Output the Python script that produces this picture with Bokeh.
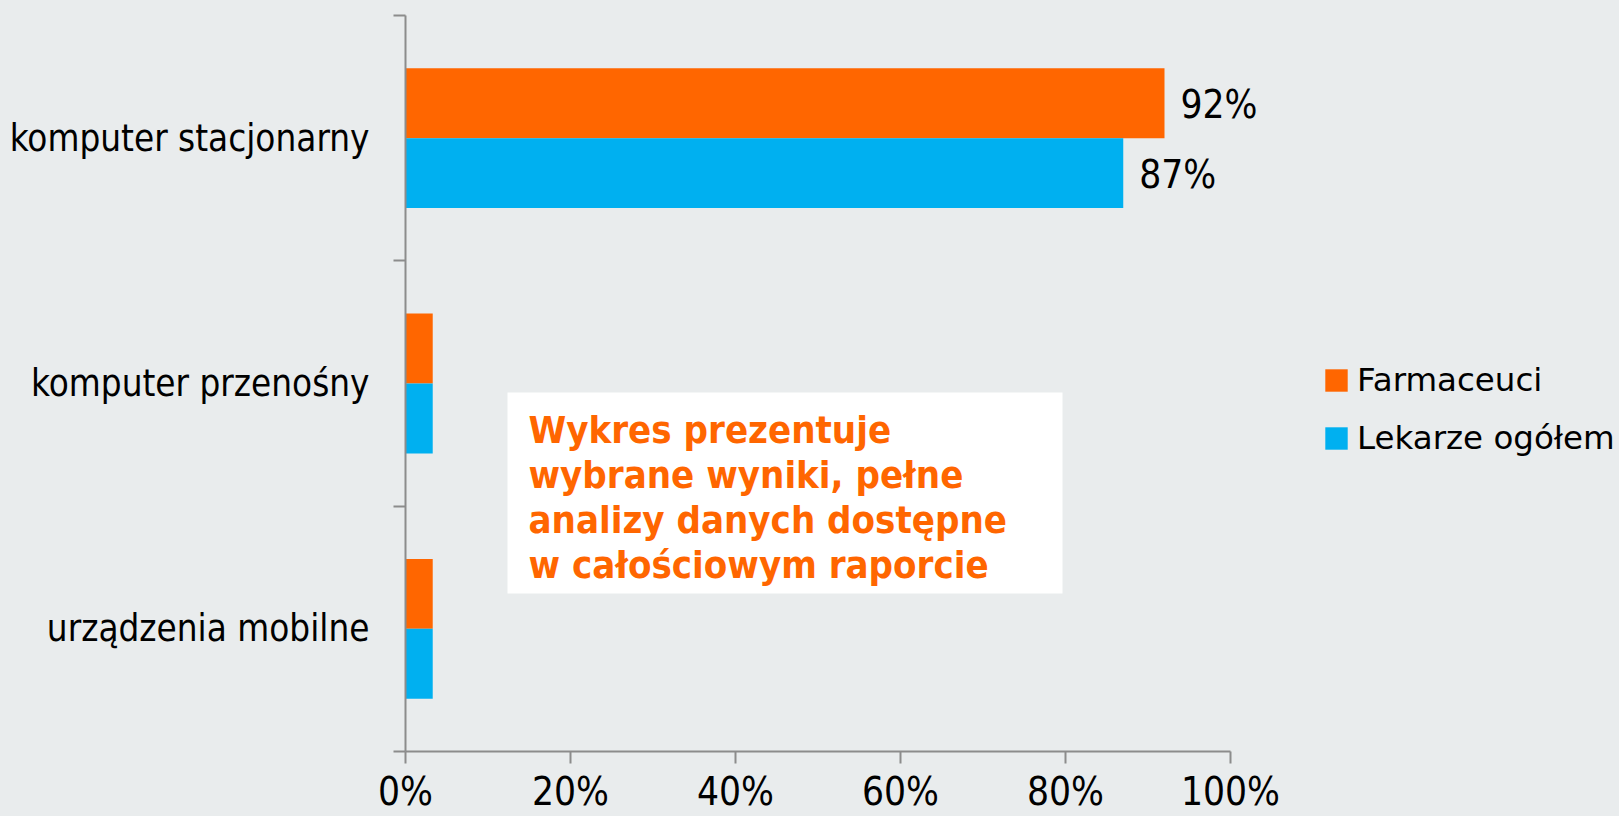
from bokeh.plotting import figure
from bokeh.models import Range1d, FixedTicker, Legend, LegendItem, Label, BoxAnnotation, ColumnDataSource
from bokeh.core.properties import value
from bokeh.embed import file_html
from bokeh.resources import INLINE

# ---- data ----
categories = ["komputer stacjonarny", "komputer przenośny", "urządzenia mobilne"]
farmaceuci = [92, 3.3, 3.3]
lekarze = [87, 3.3, 3.3]
series_names = ["Farmaceuci", "Lekarze ogółem"]
x_ticks = [0, 20, 40, 60, 80, 100]
x_tick_labels = ["0%", "20%", "40%", "60%", "80%", "100%"]
note_lines = ["Wykres prezentuje", "wybrane wyniki, pełne",
              "analizy danych dostępne", "w całościowym raporcie"]

# ---- style ----
BG = "#E9ECED"
ORANGE = "#FF6600"
BLUE = "#00B0F0"
AXIS = "#8C8C8C"
COND = "DejaVu Sans Condensed"

W, H = 1619, 816
LEFT, TOP, BOTTOM = 405, 15, 65
px_per_x = 825 / 100.0          # pixels per percent
frame_w = W - LEFT
frame_h = H - TOP - BOTTOM
x_max = frame_w / px_per_x

n = len(categories)
centers = [n - i - 0.5 for i in range(n)]
bar_h = 0.285

src_f = ColumnDataSource(dict(y=[c + bar_h / 2 for c in centers], v=farmaceuci,
                              t=[f"{v:g}%" if v > 5 else "" for v in farmaceuci]))
src_l = ColumnDataSource(dict(y=[c - bar_h / 2 for c in centers], v=lekarze,
                              t=[f"{v:g}%" if v > 5 else "" for v in lekarze]))

p = figure(width=W, height=H, x_range=Range1d(0, x_max), y_range=Range1d(0, n),
           output_backend="svg", toolbar_location=None,
           min_border_left=LEFT, min_border_right=0, min_border_top=TOP, min_border_bottom=BOTTOM,
           background_fill_color=BG, border_fill_color=BG, outline_line_color=None)
p.grid.visible = False

rf = p.hbar(y="y", left=0, right="v", height=bar_h, source=src_f,
            fill_color=ORANGE, line_color=None)
rl = p.hbar(y="y", left=0, right="v", height=bar_h, source=src_l,
            fill_color=BLUE, line_color=None)

for src in (src_f, src_l):
    p.text(x="v", y="y", text="t", source=src, x_offset=16, y_offset=1,
           text_align="left", text_baseline="middle",
           text_font=value(COND), text_font_size="38.5px", text_color="black")

# y axis
yax = p.yaxis[0]
yax.ticker = FixedTicker(ticks=centers, minor_ticks=list(range(n + 1)))
yax.major_label_overrides = {c: name for c, name in zip(centers, categories)}
yax.major_tick_out = 0
yax.major_tick_in = 0
yax.minor_tick_out = 12
yax.minor_tick_in = 0
yax.minor_tick_line_color = AXIS
yax.minor_tick_line_width = 2
yax.axis_line_color = AXIS
yax.axis_line_width = 2
yax.major_label_standoff = 24
yax.major_label_text_font = COND
yax.major_label_text_font_size = "36.5px"
yax.major_label_text_color = "black"

# x axis
xax = p.xaxis[0]
xax.bounds = (x_ticks[0], x_ticks[-1])
xax.ticker = FixedTicker(ticks=x_ticks, minor_ticks=[])
xax.major_label_overrides = {t: lab for t, lab in zip(x_ticks, x_tick_labels)}
xax.major_tick_out = 12
xax.major_tick_in = 0
xax.major_tick_line_color = AXIS
xax.major_tick_line_width = 2
xax.axis_line_color = AXIS
xax.axis_line_width = 2
xax.major_label_standoff = 5
xax.major_label_text_font = COND
xax.major_label_text_font_size = "38.5px"
xax.major_label_text_color = "black"

# note box
px_per_y = frame_h / n
def dx(px):
    return (px - LEFT) / px_per_x
def dy(py):
    return n - (py - TOP) / px_per_y

p.add_layout(BoxAnnotation(left=dx(507), right=dx(1062), top=dy(392), bottom=dy(593),
                           fill_color="white", fill_alpha=1, line_color=None))
for i, line in enumerate(note_lines):
    p.add_layout(Label(x=dx(528), y=dy(429 + 45 * i), text=line,
                       text_font=COND, text_font_style="bold", text_font_size="38px",
                       text_color=ORANGE, text_baseline="alphabetic", text_align="left"))

# legend
legend = Legend(items=[LegendItem(label=series_names[0], renderers=[rf]),
                       LegendItem(label=series_names[1], renderers=[rl])],
                location=(917, 294), orientation="vertical",
                glyph_width=28, glyph_height=28, label_standoff=7, spacing=20,
                padding=0, margin=0, background_fill_alpha=0, border_line_color=None,
                label_text_font="DejaVu Sans", label_text_font_size="32.5px",
                label_text_color="black")
p.add_layout(legend, "center")

html = file_html(p, INLINE)
html = html.replace("</head>", "<style>html, body { background: %s; }</style></head>" % BG, 1)
open("out.html", "w").write(html)
